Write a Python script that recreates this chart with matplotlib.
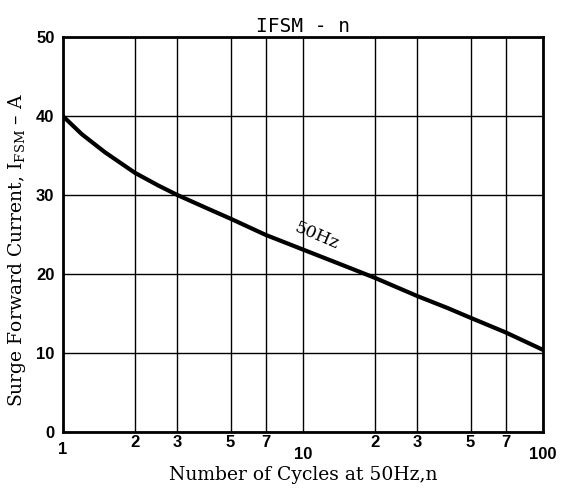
import numpy as np
import matplotlib as mpl
from matplotlib import pyplot as plt

# curve (50Hz surge current vs cycles)
cycles = [1, 1.1, 1.2, 1.5, 2, 2.5, 3, 4, 5, 7, 10, 15, 20, 30, 40, 50, 70, 100]
current = [40, 38.8, 37.7, 35.4, 32.8, 31.2, 30, 28.3, 27.0, 24.95, 23.1, 21.0, 19.5, 17.2, 15.7, 14.45, 12.6, 10.4]

xticks = [1, 2, 3, 5, 7, 10, 20, 30, 50, 70, 100]
xticklabels = ['1', '2', '3', '5', '7', '10', '2', '3', '5', '7', '100']
yticks = [0, 10, 20, 30, 40, 50]

plt.rcParams['mathtext.fontset'] = 'dejavuserif'

fig = plt.figure(figsize=(5.66, 4.88), dpi=100)
ax = fig.add_axes([0.111, 0.115, 0.848, 0.809])

ax.plot(cycles, current, color='black', lw=3, solid_joinstyle='round')
ax.set_xscale('log')
ax.set_xlim(1, 100)
ax.set_ylim(0, 50)

ax.set_xticks(xticks)
ax.set_xticklabels(xticklabels)
ax.xaxis.set_minor_locator(mpl.ticker.NullLocator())
ax.set_yticks(yticks)
ax.tick_params(length=0, labelsize=12)
for lab in ax.get_xticklabels() + ax.get_yticklabels():
	lab.set_fontweight('bold')
	lab.set_family('Liberation Sans')
# 1, 10 and 100 sit a bit lower than the others
ticks = ax.xaxis.get_major_ticks()
for i, t in enumerate(ticks):
	if xticklabels[i] in ('10', '100'):
		t.set_pad(11)
	elif xticklabels[i] == '1':
		t.set_pad(7)
	else:
		t.set_pad(2)
ax.tick_params(axis='y', pad=6)

ax.grid(True, which='major', color='black', lw=1.0)
for s in ax.spines.values():
	s.set_linewidth(2)

ax.text(11.4, 24.8, '50Hz', rotation=-23, ha='center', va='center',
	fontsize=12.5, family='DejaVu Serif')

ax.set_title('IFSM - n', fontsize=14, family='DejaVu Sans Mono', pad=4)
ax.set_xlabel('Number of Cycles at 50Hz,n', fontsize=13.5, family='DejaVu Serif', labelpad=3)
ax.set_ylabel('Surge Forward Current, I$_{\\rm FSM}$ \u2013 A', fontsize=13.5, family='DejaVu Serif')
ax.yaxis.set_label_coords(-0.072, 0.46)

fig.savefig('out.png', dpi=100)
